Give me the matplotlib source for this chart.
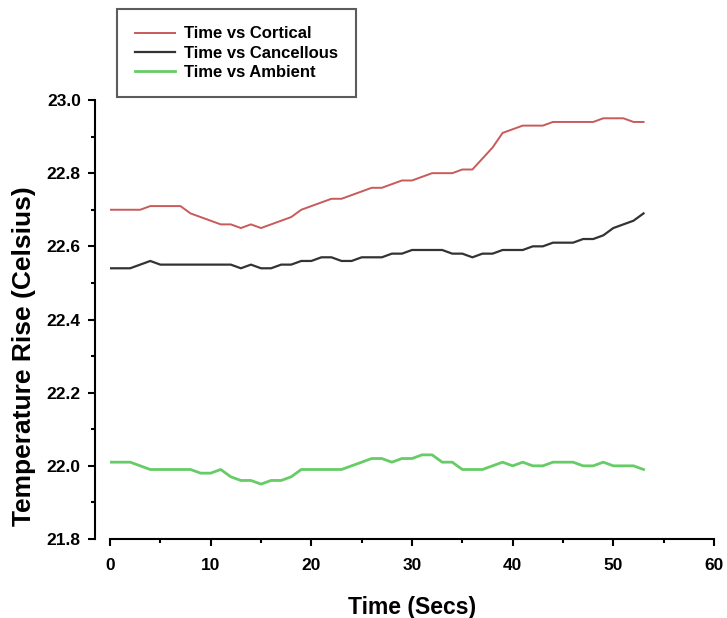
import matplotlib
matplotlib.use('Agg')
import matplotlib.pyplot as plt
from matplotlib.ticker import MultipleLocator

plt.rcParams['font.family'] = ['Liberation Sans', 'DejaVu Sans']
plt.rcParams['font.weight'] = 'bold'

secs = list(range(54))
cortical = [22.70, 22.70, 22.70, 22.70, 22.71, 22.71, 22.71, 22.71, 22.69, 22.68,
            22.67, 22.66, 22.66, 22.65, 22.66, 22.65, 22.66, 22.67, 22.68, 22.70,
            22.71, 22.72, 22.73, 22.73, 22.74, 22.75, 22.76, 22.76, 22.77, 22.78,
            22.78, 22.79, 22.80, 22.80, 22.80, 22.81, 22.81, 22.84, 22.87, 22.91,
            22.92, 22.93, 22.93, 22.93, 22.94, 22.94, 22.94, 22.94, 22.94, 22.95,
            22.95, 22.95, 22.94, 22.94]
cancellous = [22.54, 22.54, 22.54, 22.55, 22.56, 22.55, 22.55, 22.55, 22.55, 22.55,
              22.55, 22.55, 22.55, 22.54, 22.55, 22.54, 22.54, 22.55, 22.55, 22.56,
              22.56, 22.57, 22.57, 22.56, 22.56, 22.57, 22.57, 22.57, 22.58, 22.58,
              22.59, 22.59, 22.59, 22.59, 22.58, 22.58, 22.57, 22.58, 22.58, 22.59,
              22.59, 22.59, 22.60, 22.60, 22.61, 22.61, 22.61, 22.62, 22.62, 22.63,
              22.65, 22.66, 22.67, 22.69]
ambient = [22.01, 22.01, 22.01, 22.00, 21.99, 21.99, 21.99, 21.99, 21.99, 21.98,
           21.98, 21.99, 21.97, 21.96, 21.96, 21.95, 21.96, 21.96, 21.97, 21.99,
           21.99, 21.99, 21.99, 21.99, 22.00, 22.01, 22.02, 22.02, 22.01, 22.02,
           22.02, 22.03, 22.03, 22.01, 22.01, 21.99, 21.99, 21.99, 22.00, 22.01,
           22.00, 22.01, 22.00, 22.00, 22.01, 22.01, 22.01, 22.00, 22.00, 22.01,
           22.00, 22.00, 22.00, 21.99]

fig = plt.figure(figsize=(7.27, 6.18), dpi=100)
ax = fig.add_axes([110 / 727, 79 / 618, 604 / 727, 439 / 618])

l1, = ax.plot(secs, cortical, color='#c85a5a', lw=1.4)
l2, = ax.plot(secs, cancellous, color='#333333', lw=1.6)
l3, = ax.plot(secs, ambient, color='#66cc66', lw=2.0)

ax.set_xlim(0, 60)
ax.set_ylim(21.8, 23.0)
ax.xaxis.set_major_locator(MultipleLocator(10))
ax.xaxis.set_minor_locator(MultipleLocator(5))
ax.yaxis.set_major_locator(MultipleLocator(0.2))
ax.yaxis.set_minor_locator(MultipleLocator(0.1))
ax.yaxis.set_major_formatter(matplotlib.ticker.FormatStrFormatter('%.1f'))

for s in ['top', 'right']:
    ax.spines[s].set_visible(False)
for s in ['left', 'bottom']:
    ax.spines[s].set_linewidth(1.5)
ax.spines['left'].set_position(('outward', 11))

ax.tick_params(which='major', length=5, width=1.5, labelsize=12.5, pad=5)
ax.tick_params(which='minor', length=3, width=1.5)
ax.tick_params(axis='x', pad=9)

ax.set_xlabel('Time (Secs)', fontsize=16.5, fontweight='bold', labelpad=16)
ax.set_ylabel('Temperature Rise (Celsius)', fontsize=19, fontweight='bold')
ax.yaxis.set_label_coords(-0.122, 0.417)

fig.legend([l1, l2, l3], ['Time vs Cortical', 'Time vs Cancellous', 'Time vs Ambient'],
           loc='upper left', bbox_to_anchor=(117 / 727, 1 - 9 / 618),
           frameon=True, fancybox=False, edgecolor='#333333', fontsize=12,
           handlelength=2.4, borderpad=1.05, labelspacing=0.25, handletextpad=0.6,
           borderaxespad=0)
fig.legends[0].get_frame().set_linewidth(1.5)

fig.savefig('out.png', dpi=100)
